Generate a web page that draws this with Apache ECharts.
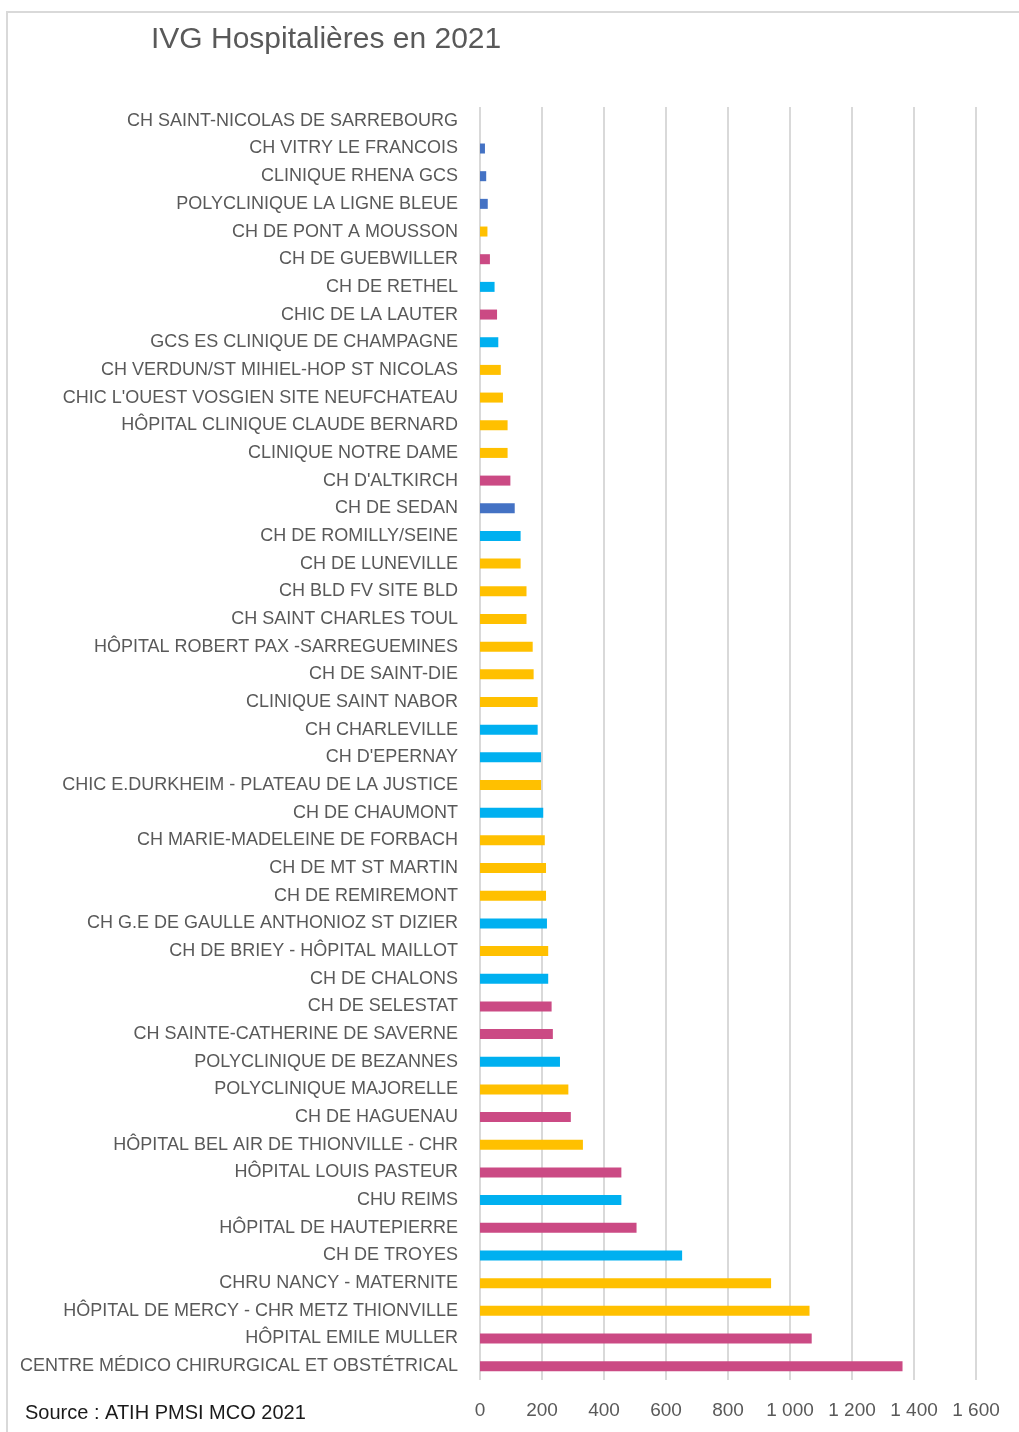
<!DOCTYPE html>
<html>
<head>
<meta charset="utf-8">
<title>IVG Hospitalières en 2021</title>
<script src="https://cdn.jsdelivr.net/npm/echarts@6/dist/echarts.min.js"></script>
<style>
  html, body { margin: 0; padding: 0; background: #fff; }
  #chart { width: 1019px; height: 1432px; }
</style>
</head>
<body>
<div id="chart"></div>
<script>
// établissements, du haut vers le bas
const hospitals = [
  'CH SAINT-NICOLAS DE SARREBOURG',
  'CH VITRY LE FRANCOIS',
  'CLINIQUE RHENA GCS',
  'POLYCLINIQUE LA LIGNE BLEUE',
  'CH DE PONT A MOUSSON',
  'CH DE GUEBWILLER',
  'CH DE RETHEL',
  'CHIC DE LA LAUTER',
  'GCS ES CLINIQUE DE CHAMPAGNE',
  'CH VERDUN/ST MIHIEL-HOP ST NICOLAS',
  "CHIC L'OUEST VOSGIEN SITE NEUFCHATEAU",
  'HÔPITAL CLINIQUE CLAUDE BERNARD',
  'CLINIQUE NOTRE DAME',
  "CH D'ALTKIRCH",
  'CH DE SEDAN',
  'CH DE ROMILLY/SEINE',
  'CH DE LUNEVILLE',
  'CH BLD FV SITE BLD',
  'CH SAINT CHARLES TOUL',
  'HÔPITAL ROBERT PAX -SARREGUEMINES',
  'CH DE SAINT-DIE',
  'CLINIQUE SAINT NABOR',
  'CH CHARLEVILLE',
  "CH D'EPERNAY",
  'CHIC E.DURKHEIM - PLATEAU DE LA JUSTICE',
  'CH DE CHAUMONT',
  'CH MARIE-MADELEINE DE FORBACH',
  'CH DE MT ST MARTIN',
  'CH DE REMIREMONT',
  'CH G.E DE GAULLE ANTHONIOZ ST DIZIER',
  'CH DE BRIEY - HÔPITAL MAILLOT',
  'CH DE CHALONS',
  'CH DE SELESTAT',
  'CH SAINTE-CATHERINE DE SAVERNE',
  'POLYCLINIQUE DE BEZANNES',
  'POLYCLINIQUE MAJORELLE',
  'CH DE HAGUENAU',
  'HÔPITAL BEL AIR DE THIONVILLE - CHR',
  'HÔPITAL LOUIS PASTEUR',
  'CHU REIMS',
  'HÔPITAL DE HAUTEPIERRE',
  'CH DE TROYES',
  'CHRU NANCY - MATERNITE',
  'HÔPITAL DE MERCY - CHR METZ THIONVILLE',
  'HÔPITAL EMILE MULLER',
  'CENTRE MÉDICO CHIRURGICAL ET OBSTÉTRICAL'
]

const ivgCounts = [
  0, 16, 20, 25, 24, 32, 47, 55, 59, 67,
  74, 89, 89, 98, 112, 131, 131, 150, 150, 170,
  173, 186, 186, 197, 197, 204, 209, 213, 213, 216,
  220, 220, 231, 235, 258, 285, 293, 332, 456, 456,
  505, 652, 939, 1063, 1070, 1363
]

// groupe de couleur de chaque barre
const groups = [
  'lor', 'dark', 'dark', 'dark', 'lor', 'als', 'cha', 'als', 'cha', 'lor',
  'lor', 'lor', 'lor', 'als', 'dark', 'cha', 'lor', 'lor', 'lor', 'lor',
  'lor', 'lor', 'cha', 'cha', 'lor', 'cha', 'lor', 'lor', 'lor', 'cha',
  'lor', 'cha', 'als', 'als', 'cha', 'lor', 'als', 'lor', 'als', 'cha',
  'als', 'cha', 'lor', 'lor', 'als', 'als'
]

const xTicks = [0, 200, 400, 600, 800, 1000, 1200, 1400, 1600]

const groupColors = {
  dark: '#4472C4',
  cha: '#00B0F0',
  lor: '#FFC000',
  als: '#CB4A84'
}

const fmt = v => String(v).replace(/\B(?=(\d{3})+(?!\d))/g, ' ')

const chart = echarts.init(document.getElementById('chart'))

chart.setOption({
  backgroundColor: '#fff',
  animation: false,
  textStyle: { fontFamily: 'Liberation Sans, Arial, sans-serif' },
  title: {
    text: 'IVG Hospitalières en 2021',
    left: 146,
    top: 20,
    textStyle: { fontSize: 30, fontWeight: 'normal', color: '#595959' }
  },
  graphic: [
    {
      type: 'rect',
      shape: { x: 7, y: 12, width: 1030, height: 1440 },
      style: { fill: 'none', stroke: '#D9D9D9', lineWidth: 2 },
      silent: true
    },
    {
      type: 'text',
      left: 25,
      top: 1403,
      style: { text: 'Source : ATIH PMSI MCO 2021', fontSize: 20, fill: '#1a1a1a', fontFamily: 'Liberation Sans, Arial, sans-serif' }
    }
  ],
  grid: { left: 480, right: 43, top: 107, bottom: 52 },
  xAxis: {
    type: 'value',
    min: xTicks[0],
    max: xTicks[xTicks.length - 1],
    interval: xTicks[1] - xTicks[0],
    axisLine: { show: false },
    axisTick: { show: false },
    axisLabel: { color: '#595959', fontSize: 19, margin: 21, formatter: fmt },
    splitLine: { lineStyle: { color: '#D9D9D9', width: 2 } }
  },
  yAxis: {
    type: 'category',
    inverse: true,
    data: hospitals,
    axisLine: { show: false },
    axisTick: { show: false },
    axisLabel: { color: '#595959', fontSize: 18, margin: 22 }
  },
  series: [{
    type: 'bar',
    barWidth: 10,
    data: ivgCounts.map((v, i) => ({
      value: v,
      itemStyle: { color: groupColors[groups[i]] }
    }))
  }]
})
</script>
</body>
</html>
